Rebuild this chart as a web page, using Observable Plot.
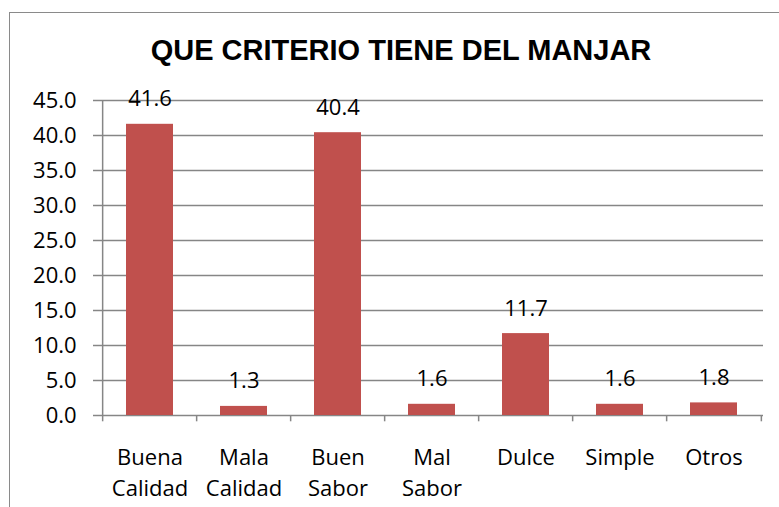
<!DOCTYPE html>
<html>
<head>
<meta charset="utf-8">
<script src="https://cdn.jsdelivr.net/npm/d3@7"></script>
<script src="https://cdn.jsdelivr.net/npm/@observablehq/plot@0.6"></script>
<style>
  html, body { margin: 0; padding: 0; background: #fff; overflow: hidden; }
  #wrap { position: relative; width: 779px; height: 507px; }
  #border { position: absolute; left: 9px; top: 12px; width: 900px; height: 700px;
            border-top: 1.5px solid #8a8a8a; border-left: 1.5px solid #8a8a8a; pointer-events: none; }
</style>
</head>
<body>
<div id="wrap"><div id="border"></div></div>
<script>
const title = "QUE CRITERIO TIENE DEL MANJAR";
const categories = ["Buena Calidad", "Mala Calidad", "Buen Sabor", "Mal Sabor", "Dulce", "Simple", "Otros"];
const categoryLabels = ["Buena\nCalidad", "Mala\nCalidad", "Buen\nSabor", "Mal\nSabor", "Dulce", "Simple", "Otros"];
const values = [41.6, 1.3, 40.4, 1.6, 11.7, 1.6, 1.8];
const yTicks = [0, 5, 10, 15, 20, 25, 30, 35, 40, 45];

const data = categories.map((c, i) => ({category: c, label: categoryLabels[i], value: values[i]}));
const gray = "#868686";
const step = (779 - 100 - 16) / categories.length;

const chart = Plot.plot({
  width: 779,
  height: 507,
  marginLeft: 100,
  marginRight: 16,
  marginTop: 100,
  marginBottom: 92,
  style: {fontFamily: "'Open Sans', sans-serif", fontSize: "22px", color: "#000", background: "transparent"},
  x: {domain: categories, paddingInner: 0.5, paddingOuter: 0.25, axis: null},
  y: {domain: [0, 45], ticks: yTicks, axis: null},
  marks: [
    Plot.ruleY(yTicks, {y: d => d, stroke: gray, strokeWidth: 1.5, strokeOpacity: 1, insetLeft: -7}),
    Plot.ruleX(categories, {x: d => d, dx: -step / 2, y1: 0, y2: -0.9, stroke: gray, strokeWidth: 1.5}),
    Plot.ruleX([categories[categories.length - 1]], {x: d => d, dx: step / 2, y1: 0, y2: -0.9, stroke: gray, strokeWidth: 1.5}),
    Plot.ruleX([categories[0]], {x: d => d, dx: -step / 2, y1: 0, y2: 45, stroke: gray, strokeWidth: 1.5}),
    Plot.barY(data, {x: "category", y: "value", fill: "#C0504D"}),
    Plot.text(yTicks, {x: () => categories[0], y: d => d, text: d => d.toFixed(1), dx: -step / 2 - 26, textAnchor: "end", fill: "#000", fontSize: 22}),
    Plot.text(data, {x: "category", y: "value", text: d => d.value.toFixed(1), dy: -25, lineAnchor: "middle", fill: "#000", fontSize: 22}),
    Plot.text(data, {x: "category", text: "label", frameAnchor: "bottom", lineAnchor: "top", dy: 27, lineHeight: 1.43, fill: "#000", fontSize: 22}),
    Plot.text([title], {frameAnchor: "top", dy: -50, dx: -31, lineAnchor: "middle", fontFamily: "'Liberation Sans', Arial, sans-serif", fontWeight: "bold", fontSize: 29, fill: "#000"})
  ]
});
chart.style.position = "absolute";
chart.style.left = "0";
chart.style.top = "0";
document.getElementById("wrap").prepend(chart);
</script>
</body>
</html>
